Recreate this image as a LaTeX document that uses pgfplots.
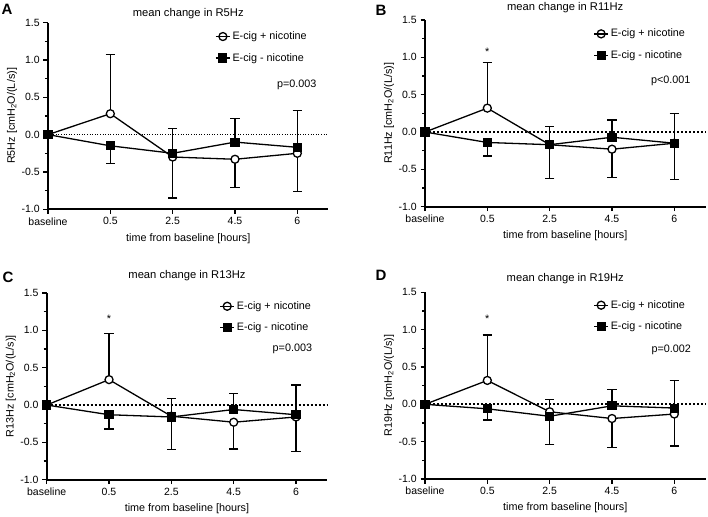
\documentclass[border=0pt]{standalone}
\usepackage{fontspec}
\setmainfont{Liberation Sans}
\usepackage{pgfplots}
\pgfplotsset{compat=1.18}
\pgfplotsset{
 panel/.style={
  scale only axis, width=280.5bp, height=186.7bp, anchor=south west,
  xmin=0, xmax=4.5, ymin=-1, ymax=1.5,
  axis lines=left, axis line style={line width=2.2bp, -},
  xtick={0,1,2,3,4}, xticklabels={baseline,0.5,2.5,4.5,6},
  ytick={-1,-0.5,0,0.5,1,1.5}, minor ytick={-0.75,-0.25,0.25,0.75,1.25},
  tick align=outside, major tick length=4.5bp, minor tick length=3bp,
  every tick/.style={line width=1.4bp, black},
  yticklabel style={/pgf/number format/.cd, fixed, fixed zerofill, precision=1},
  /pgf/number format/assume math mode=true,
  tick label style={font=\fontsize{10.5bp}{12bp}\selectfont},
  label style={font=\fontsize{10.8bp}{13bp}\selectfont},
  every axis title/.style={font=\fontsize{11.2bp}{13bp}\selectfont, at={(axis description cs:0.5,1)}, anchor=center},
  xlabel={time from baseline [hours]},
  xlabel style={at={(axis description cs:0.5,-0.1553)}, anchor=center},
  ylabel style={at={(axis description cs:-0.1283,0.5)}, anchor=center},
  clip=false,
  legend style={draw=none, fill=none, font=\fontsize{10.8bp}{13bp}\selectfont, row sep=8bp, anchor=north west, legend cell align=left, inner sep=0pt,
    /tikz/every even column/.append style={column sep=6bp}},
  legend image code/.code={\draw[mark repeat=2,mark phase=2,#1] plot coordinates {(0bp,0bp) (7bp,0bp) (14bp,0bp)};
     \draw[#1, mark=none] (0bp,0bp) -- (14bp,0bp);},
 },
 zeroline/.style={black, line width=1.1bp, dash pattern=on 1bp off 1.6bp, forget plot},
 zerolinethick/.style={black, line width=2bp, dash pattern=on 2bp off 2bp, forget plot},
 openser/.style={black, line width=1.3bp, mark=*, mark size=4bp, mark options={fill=white, solid, line width=1.3bp}},
 fillser/.style={black, line width=1.3bp, mark=square*, mark size=3.9bp, mark options={fill=black, solid}},
 errup/.style={only marks, mark=none, forget plot, error bars/.cd, y dir=plus, y explicit, error bar style={line width=1.3bp, black}, error mark options={rotate=90, line width=1.3bp, mark size=4.6bp, black}},
 errdn/.style={only marks, mark=none, forget plot, error bars/.cd, y dir=minus, y explicit, error bar style={line width=1.3bp, black}, error mark options={rotate=90, line width=1.3bp, mark size=4.6bp, black}},
}
\begin{document}
\begin{tikzpicture}
\useasboundingbox (0,0) rectangle (708bp,-517bp);
\fontsize{10.8bp}{13bp}\selectfont
% ---------- A ----------
\begin{axis}[panel, at={(48bp,-209.3bp)}, title={mean change in R5Hz}, title style={yshift=9bp},
  ylabel={R5Hz [cmH\textsubscript{2}O/(L/s)]}, legend style={at={(axis cs:2.68,1.406)}}]
\addplot[zeroline] coordinates {(0,0) (4.5,0)};
\addplot[errup] coordinates {(1,0.28) += (0,0.79)};
\addplot[errdn] coordinates {(2,-0.30) -= (0,0.55) (3,-0.33) -= (0,0.38) (4,-0.25) -= (0,0.51)};
\addplot[errdn] coordinates {(1,-0.15) -= (0,0.24)};
\addplot[errup] coordinates {(2,-0.25) += (0,0.33) (3,-0.10) += (0,0.32) (4,-0.17) += (0,0.49)};
\addplot[openser] coordinates {(0,0) (1,0.28) (2,-0.30) (3,-0.33) (4,-0.25)};
\addlegendentry{E-cig + nicotine}
\addplot[fillser] coordinates {(0,0) (1,-0.15) (2,-0.25) (3,-0.10) (4,-0.17)};
\addlegendentry{E-cig - nicotine}
\node[anchor=east, font=\fontsize{10.8bp}{13bp}\selectfont, inner sep=0] at (axis cs:4.31,0.67) {p=0.003};
\end{axis}
% ---------- B ----------
\begin{axis}[panel, at={(425bp,-206.7bp)}, title={mean change in R11Hz}, title style={yshift=12bp},
  ylabel={R11Hz [cmH\textsubscript{2}O/(L/s)]}, legend style={at={(axis cs:2.70,1.407)}}]
\addplot[zerolinethick] coordinates {(0,0) (4.5,0)};
\addplot[errup] coordinates {(1,0.32) += (0,0.61)};
\addplot[errdn] coordinates {(2,-0.17) -= (0,0.45) (3,-0.23) -= (0,0.38) (4,-0.15) -= (0,0.49)};
\addplot[errdn] coordinates {(1,-0.14) -= (0,0.18)};
\addplot[errup] coordinates {(2,-0.17) += (0,0.24) (3,-0.07) += (0,0.23) (4,-0.15) += (0,0.40)};
\addplot[openser] coordinates {(0,0) (1,0.32) (2,-0.17) (3,-0.23) (4,-0.15)};
\addlegendentry{E-cig + nicotine}
\addplot[fillser] coordinates {(0,0) (1,-0.14) (2,-0.17) (3,-0.07) (4,-0.15)};
\addlegendentry{E-cig - nicotine}
\node[font=\fontsize{10.8bp}{13bp}\selectfont, inner sep=0] at (axis cs:1,1.07) {*};
\node[anchor=east, font=\fontsize{10.8bp}{13bp}\selectfont, inner sep=0] at (axis cs:4.26,0.68) {p<0.001};
\end{axis}
% ---------- C ----------
\begin{axis}[panel, at={(46.7bp,-479.7bp)}, title={mean change in R13Hz}, title style={yshift=17bp},
  ylabel={R13Hz [cmH\textsubscript{2}O/(L/s)]}, legend style={at={(axis cs:2.77,1.415)}}]
\addplot[zerolinethick] coordinates {(0,0) (4.5,0)};
\addplot[errup] coordinates {(1,0.34) += (0,0.62)};
\addplot[errdn] coordinates {(2,-0.15) -= (0,0.45) (3,-0.23) -= (0,0.36) (4,-0.16) -= (0,0.46)};
\addplot[errdn] coordinates {(1,-0.13) -= (0,0.19)};
\addplot[errup] coordinates {(2,-0.16) += (0,0.25) (3,-0.06) += (0,0.21) (4,-0.13) += (0,0.40)};
\addplot[openser] coordinates {(0,0) (1,0.34) (2,-0.15) (3,-0.23) (4,-0.16)};
\addlegendentry{E-cig + nicotine}
\addplot[fillser] coordinates {(0,0) (1,-0.13) (2,-0.16) (3,-0.06) (4,-0.13)};
\addlegendentry{E-cig - nicotine}
\node[font=\fontsize{10.8bp}{13bp}\selectfont, inner sep=0] at (axis cs:1,1.15) {*};
\node[anchor=east, font=\fontsize{10.8bp}{13bp}\selectfont, inner sep=0] at (axis cs:4.26,0.75) {p=0.003};
\end{axis}
% ---------- D ----------
\begin{axis}[panel, at={(425bp,-479bp)}, title={mean change in R19Hz}, title style={yshift=13.5bp},
  ylabel={R19Hz [cmH\textsubscript{2}O/(L/s)]}, legend style={at={(axis cs:2.70,1.42)}}]
\addplot[zerolinethick] coordinates {(0,0) (4.5,0)};
\addplot[errup] coordinates {(1,0.32) += (0,0.61)};
\addplot[errdn] coordinates {(2,-0.10) -= (0,0.44) (3,-0.19) -= (0,0.39) (4,-0.13) -= (0,0.43)};
\addplot[errdn] coordinates {(1,-0.06) -= (0,0.15)};
\addplot[errup] coordinates {(2,-0.16) += (0,0.22) (3,-0.02) += (0,0.22) (4,-0.05) += (0,0.37)};
\addplot[openser] coordinates {(0,0) (1,0.32) (2,-0.10) (3,-0.19) (4,-0.13)};
\addlegendentry{E-cig + nicotine}
\addplot[fillser] coordinates {(0,0) (1,-0.06) (2,-0.16) (3,-0.02) (4,-0.05)};
\addlegendentry{E-cig - nicotine}
\node[font=\fontsize{10.8bp}{13bp}\selectfont, inner sep=0] at (axis cs:1,1.14) {*};
\node[anchor=east, font=\fontsize{10.8bp}{13bp}\selectfont, inner sep=0] at (axis cs:4.27,0.73) {p=0.002};
\end{axis}
% panel letters
\node[anchor=west, inner sep=0, font=\fontsize{15bp}{17bp}\selectfont\bfseries] at (1.5bp,-9.5bp) {A};
\node[anchor=west, inner sep=0, font=\fontsize{15bp}{17bp}\selectfont\bfseries] at (375.5bp,-10bp) {B};
\node[anchor=west, inner sep=0, font=\fontsize{15bp}{17bp}\selectfont\bfseries] at (2.5bp,-277bp) {C};
\node[anchor=west, inner sep=0, font=\fontsize{15bp}{17bp}\selectfont\bfseries] at (375.5bp,-275.5bp) {D};
\end{tikzpicture}
\end{document}
